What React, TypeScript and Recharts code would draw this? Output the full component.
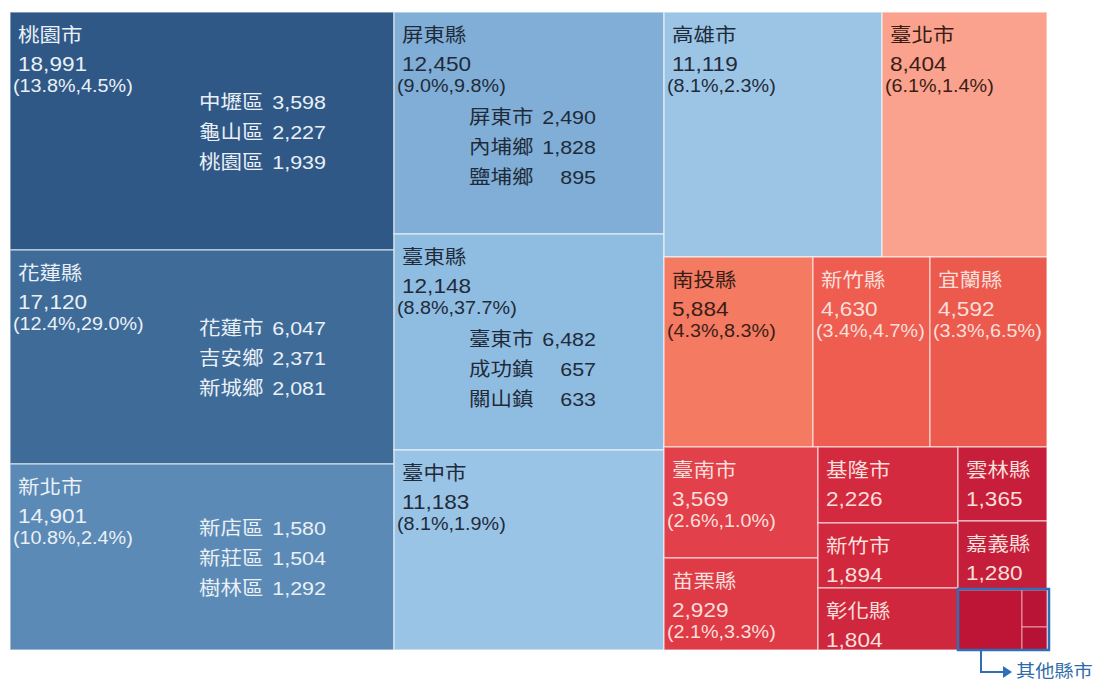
import { Treemap } from "recharts"

// ── Data ──────────────────────────────────────────────────────────
const counties = [
    '桃園市', '花蓮縣', '新北市', '屏東縣', '臺東縣', '臺中市', '高雄市', '臺北市', '南投縣',
    '新竹縣', '宜蘭縣', '臺南市', '苗栗縣', '基隆市', '新竹市', '彰化縣', '雲林縣', '嘉義縣',
]
const counts = [
    18991, 17120, 14901, 12450, 12148, 11183, 11119, 8404, 5884,
    4630, 4592, 3569, 2929, 2226, 1894, 1804, 1365, 1280,
]
const shares = [
    '(13.8%,4.5%)', '(12.4%,29.0%)', '(10.8%,2.4%)', '(9.0%,9.8%)', '(8.8%,37.7%)', '(8.1%,1.9%)',
    '(8.1%,2.3%)', '(6.1%,1.4%)', '(4.3%,8.3%)', '(3.4%,4.7%)', '(3.3%,6.5%)', '(2.6%,1.0%)',
    '(2.1%,3.3%)', '', '', '', '', '',
]
const otherLabel = '其他縣市'
const otherParts = ['其他甲', '其他乙', '其他丙']
const otherCounts = [816, 195, 116]

const districts: Record<string, [string, number][]> = {
    '桃園市': [['中壢區', 3598], ['龜山區', 2227], ['桃園區', 1939]],
    '花蓮縣': [['花蓮市', 6047], ['吉安鄉', 2371], ['新城鄉', 2081]],
    '新北市': [['新店區', 1580], ['新莊區', 1504], ['樹林區', 1292]],
    '屏東縣': [['屏東市', 2490], ['內埔鄉', 1828], ['鹽埔鄉', 895]],
    '臺東縣': [['臺東市', 6482], ['成功鎮', 657], ['關山鎮', 633]],
}

// ── Styles ────────────────────────────────────────────────────────
const fills = [
    '#2F5887', '#3E6B98', '#5A8AB5', '#80AED6', '#8FBCE1', '#99C4E6', '#9CC5E5', '#FAA28E', '#F47A62',
    '#EE5D4F', '#EC5A4D', '#E2404A', '#DF3B47', '#D42A3F', '#D1283D', '#CF283E', '#C71F3B', '#C41E3A',
]
const otherFills = ['#BE1536', '#B91336', '#B51236']
const FONT = "'Liberation Sans', Arial, 'Noto Sans CJK TC', sans-serif"
const SX = 1.13
const OUTLINE = '#2F6FB7'

const data = [
    ...counties.map((name, i) => ({
        name,
        value: counts[i],
        share: shares[i],
        districts: districts[name] || [],
    })),
    {
        name: otherLabel,
        children: otherParts.map((p, j) => ({ name: p, value: otherCounts[j] })),
    },
]

const lum = (hex: string) => {
    const r = parseInt(hex.slice(1, 3), 16)
    const g = parseInt(hex.slice(3, 5), 16)
    const b = parseInt(hex.slice(5, 7), 16)
    return { l: 0.299 * r + 0.587 * g + 0.114 * b, red: r > b }
}

const T = ({ x, y, size, color, anchor = 'start', children }: any) => (
    <text
        transform={`translate(${x} ${y}) scale(${SX} 1)`}
        fontSize={size}
        fill={color}
        textAnchor={anchor}
        fontFamily={FONT}
    >
        {children}
    </text>
)

function renderCell(props: any) {
    const { depth, x, y, width, height, index, name, share, children } = props
    if (depth !== 1) return <g />

    // ── 其他縣市: nested block with outline + callout ──
    if (children && children.length) {
        const bx = x + 23
        const by = y + height
        return (
            <g>
                {children.map((c: any, j: number) => (
                    <rect
                        key={j}
                        x={c.x}
                        y={c.y}
                        width={c.width}
                        height={c.height}
                        fill={otherFills[j]}
                        stroke="#f4b9c2"
                        strokeOpacity={0.8}
                        strokeWidth={1}
                    />
                ))}
                <rect x={x} y={y - 1} width={width + 2} height={height + 1} fill="none" stroke={OUTLINE} strokeWidth={2.5} />
                <path d={`M${bx},${by} V${by + 22} H${bx + 23}`} stroke={OUTLINE} strokeWidth={2} fill="none" />
                <path d={`M${bx + 22},${by + 16} L${bx + 31},${by + 22} L${bx + 22},${by + 28} Z`} fill={OUTLINE} />
                <T x={bx + 35} y={by + 27} size={17} color="#2E6AA8">{name}</T>
            </g>
        )
    }

    const fill = fills[index]
    const { l, red } = lum(fill)
    const light = l < 145
    const color = light ? (red ? '#FADFDA' : '#EAF0F6') : (red ? '#3A1E16' : '#1F2B3A')
    const list: [string, number][] = props.districts || []
    const firstBase = width > 300 ? height / 2 - 22 : 112

    return (
        <g>
            <rect x={x} y={y} width={width} height={height} fill={fill} stroke="#ffffff" strokeOpacity={0.55} strokeWidth={1.5} />
            <T x={x + 8} y={y + 30} size={19} color={color}>{name}</T>
            <T x={x + 8} y={y + 59} size={20} color={color}>{props.value.toLocaleString('en-US')}</T>
            {share ? <T x={x + 3} y={y + 80} size={17.5} color={color}>{share}</T> : null}
            {list.map(([d, v], k) => (
                <g key={d}>
                    <T x={x + width - 195} y={y + firstBase + k * 30} size={19} color={color}>{d}</T>
                    <T x={x + width - 68} y={y + firstBase + k * 30} size={19} color={color} anchor="end">
                        {v.toLocaleString('en-US')}
                    </T>
                </g>
            ))}
        </g>
    )
}

export default function App() {
    return (
        <div style={{ paddingLeft: 10, paddingTop: 12, height: 667 }}>
            <style>{`body{margin:0} .recharts-surface{overflow:visible}`}</style>
            <Treemap
                width={1037}
                height={638}
                data={data}
                dataKey="value"
                nameKey="name"
                aspectRatio={1.5}
                isAnimationActive={false}
                content={renderCell}
            />
        </div>
    )
}
